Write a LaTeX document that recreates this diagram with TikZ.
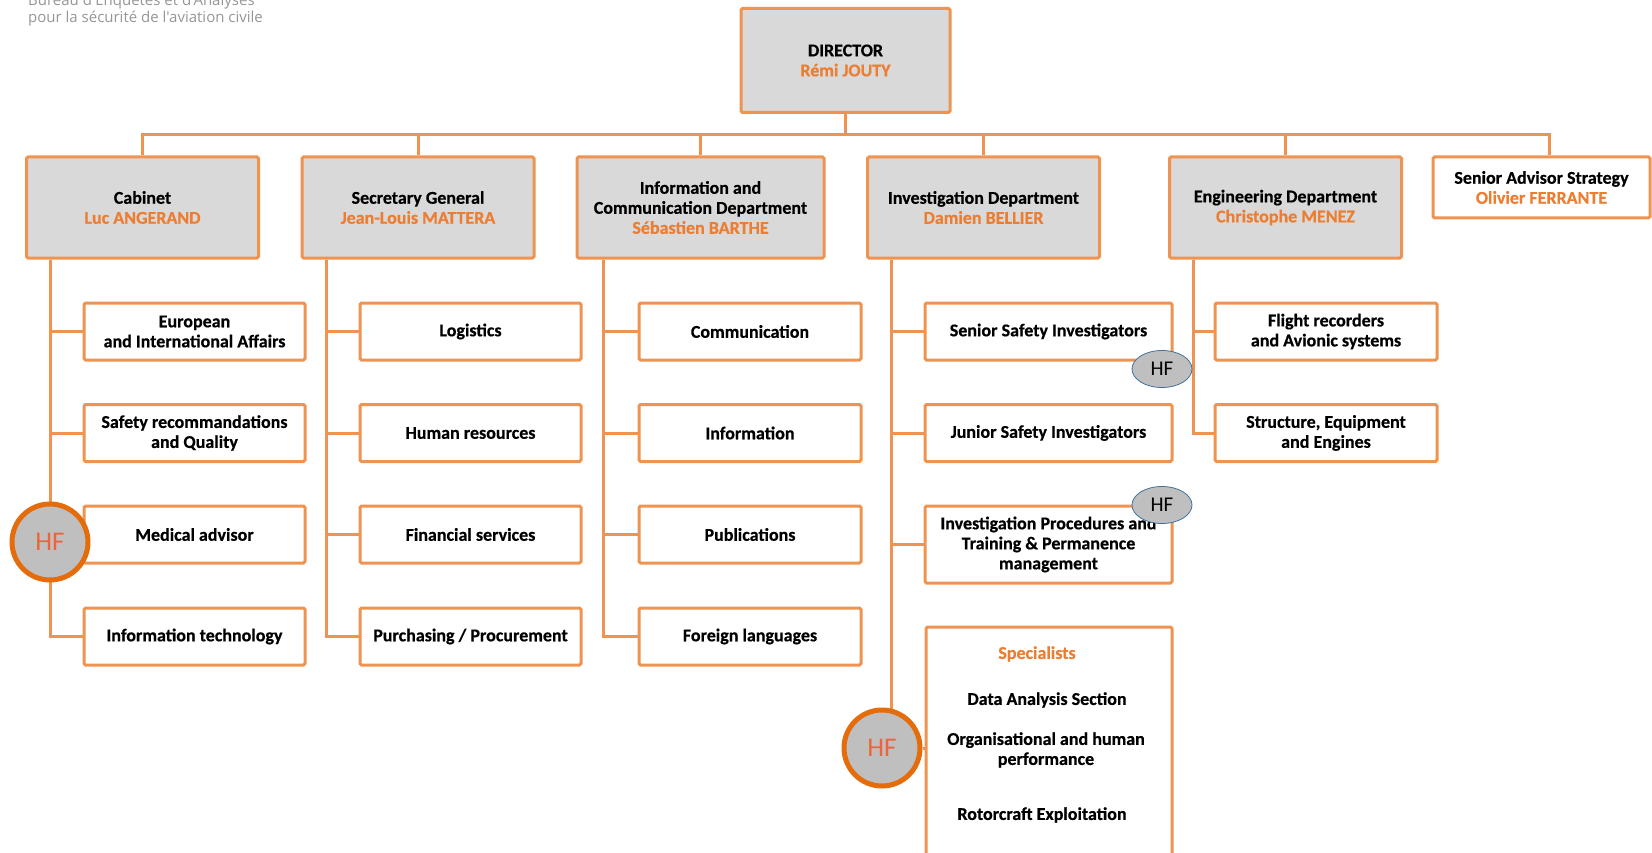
\documentclass[tikz,border=0pt]{standalone}
\usepackage{fontspec}
\setmainfont{Carlito}[BoldFeatures={FakeBold=0.5}]
\newfontfamily\logofont{Open Sans}
\usetikzlibrary{backgrounds}
\definecolor{oline}{RGB}{238,148,80}
\definecolor{oname}{RGB}{237,125,49}
\definecolor{boxgrey}{RGB}{217,217,217}
\definecolor{hfring}{RGB}{228,108,10}
\definecolor{hftext}{RGB}{235,100,60}
\definecolor{hfgrey}{RGB}{191,191,191}
\definecolor{hfblue}{RGB}{65,113,156}
\definecolor{logogrey}{RGB}{150,150,150}
\tikzset{
  conn/.style={draw=oline, line width=3pt},
  unitbox/.style={draw=oline, line width=3pt, fill=white, rounded corners=1.5pt,
    inner sep=0pt, align=center, font=\fontsize{18}{20}\selectfont\bfseries},
  headbox/.style={unitbox, fill=boxgrey, minimum width=232pt, minimum height=101pt},
  subbox/.style={unitbox, minimum width=221pt, minimum height=57pt},
  invbox/.style={unitbox, minimum width=247pt, minimum height=57pt},
  spectext/.style={inner sep=0pt, align=center, font=\fontsize{18}{20}\selectfont\bfseries},
  hfring/.style={circle, draw=hfring, line width=5pt, fill=hfgrey, minimum size=76pt,
    inner sep=0pt, text=hftext, font=\fontsize{27}{27}\selectfont},
  hfoval/.style={ellipse, draw=hfblue, line width=0.8pt, fill=hfgrey, minimum width=60pt,
    minimum height=37pt, inner sep=0pt, font=\fontsize{21}{21}\selectfont},
  logotext/.style={inner sep=0pt, anchor=base west, text=logogrey, font=\logofont\fontsize{15}{16}\selectfont}
}
\usetikzlibrary{shapes.geometric}
\begin{document}
\begin{tikzpicture}[x=1pt,y=-1pt]
\useasboundingbox (0,0) rectangle (1652,853);
% logo text
\node[logotext] (logo1) at (28,6) {Bureau d'Enquêtes et d'Analyses};
\node[logotext] (logo2) at (28,22.5) {pour la sécurité de l'aviation civile};
% director
\node[headbox, minimum width=209pt, minimum height=104pt] (dir) at (845.5,60.5) {DIRECTOR\\\textcolor{oname}{Rémi JOUTY}};
% heads
\node[headbox] (cab) at (142.5,207.5) {Cabinet\\\textcolor{oname}{Luc ANGERAND}};
\node[headbox] (sg) at (418,207.5) {Secretary General\\\textcolor{oname}{Jean-Louis MATTERA}};
\node[headbox, minimum width=247pt] (inf) at (700.5,207.5) {Information and\\Communication Department\\\textcolor{oname}{Sébastien BARTHE}};
\node[headbox] (inv) at (983.5,207.5) {Investigation Department\\\textcolor{oname}{Damien BELLIER}};
\node[headbox] (eng) at (1285.5,207.5) {Engineering Department\\\textcolor{oname}{Christophe MENEZ}};
\node[unitbox, minimum width=217pt, minimum height=61pt] (sen) at (1541.5,187.5) {Senior Advisor Strategy\\\textcolor{oname}{Olivier FERRANTE}};
% cabinet column
\node[subbox] (cab1) at (194.5,331.5) {European\\and International Affairs};
\node[subbox] (cab2) at (194.5,433) {Safety recommandations\\and Quality};
\node[subbox] (cab3) at (194.5,534.5) {Medical advisor};
\node[subbox] (cab4) at (194.5,636.5) {Information technology};
% SG column
\node[subbox] (sg1) at (470.5,331.5) {Logistics};
\node[subbox] (sg2) at (470.5,433) {Human resources};
\node[subbox] (sg3) at (470.5,534.5) {Financial services};
\node[subbox] (sg4) at (470.5,636.5) {Purchasing / Procurement};
% Info column
\node[subbox, minimum width=222pt] (inf1) at (750,331.5) {Communication};
\node[subbox, minimum width=222pt] (inf2) at (750,433) {Information};
\node[subbox, minimum width=222pt] (inf3) at (750,534.5) {Publications};
\node[subbox, minimum width=222pt] (inf4) at (750,636.5) {Foreign languages};
% Investigation column
\node[invbox] (inv1) at (1048.5,331.5) {Senior Safety Investigators};
\node[invbox] (inv2) at (1048.5,433) {Junior Safety Investigators};
\node[invbox, minimum height=77pt] (inv3) at (1048.5,544.5) {Investigation Procedures and\\Training \& Permanence\\management};
\node[invbox, minimum width=246pt, minimum height=253pt] (spec) at (1049,753.5) {};
\node[spectext, text=oname] (spec0) at (1037,654) {Specialists};
\node[spectext] (spec1) at (1047,700) {Data Analysis Section};
\node[spectext] (spec2) at (1046,750) {Organisational and human\\performance};
\node[spectext] (spec3) at (1042,815) {Rotorcraft Exploitation};
% Engineering column
\node[subbox, minimum width=222pt] (eng1) at (1326,331.5) {Flight recorders\\and Avionic systems};
\node[subbox, minimum width=222pt] (eng2) at (1326,433) {Structure, Equipment\\and Engines};
% HF markers
\node[hfring] (hf1) at (50,542) {HF};
\node[hfring] (hf3) at (882,748) {HF};
\node[hfoval] (hf2) at (1162,369) {HF};
\node[hfoval] (hf4) at (1162,505) {HF};
% helper coordinates
\coordinate (busR) at (1549,135);
\coordinate (cabx) at (50,0);
\coordinate (sgx) at (326,0);
\coordinate (infx) at (603,0);
\coordinate (invx) at (891,0);
\coordinate (engx) at (1193,0);
\begin{scope}[on background layer]
\draw[conn] (cab.north) |- (busR) -- (busR |- sen.north);
\draw[conn] (dir.south) -- (dir.south |- busR);
\foreach \n in {sg,inf,inv,eng} \draw[conn] (\n.north) -- (\n.north |- busR);
% cabinet
\draw[conn] (cab.south -| cabx) |- (cab4.west);
\foreach \n in {cab1,cab2,cab3} \draw[conn] (cabx |- \n.west) -- (\n.west);
% sg
\draw[conn] (sg.south -| sgx) |- (sg4.west);
\foreach \n in {sg1,sg2,sg3} \draw[conn] (sgx |- \n.west) -- (\n.west);
% info
\draw[conn] (inf.south -| infx) |- (inf4.west);
\foreach \n in {inf1,inf2,inf3} \draw[conn] (infx |- \n.west) -- (\n.west);
% investigation
\draw[conn] (inv.south -| invx) -- (invx |- hf3.center);
\foreach \n in {inv1,inv2,inv3} \draw[conn] (invx |- \n.west) -- (\n.west);
\draw[conn] (hf3.east) -- (hf3.east -| spec.west);
% engineering
\draw[conn] (eng.south -| engx) |- (eng2.west);
\draw[conn] (engx |- eng1.west) -- (eng1.west);
\end{scope}
\end{tikzpicture}
\end{document}
